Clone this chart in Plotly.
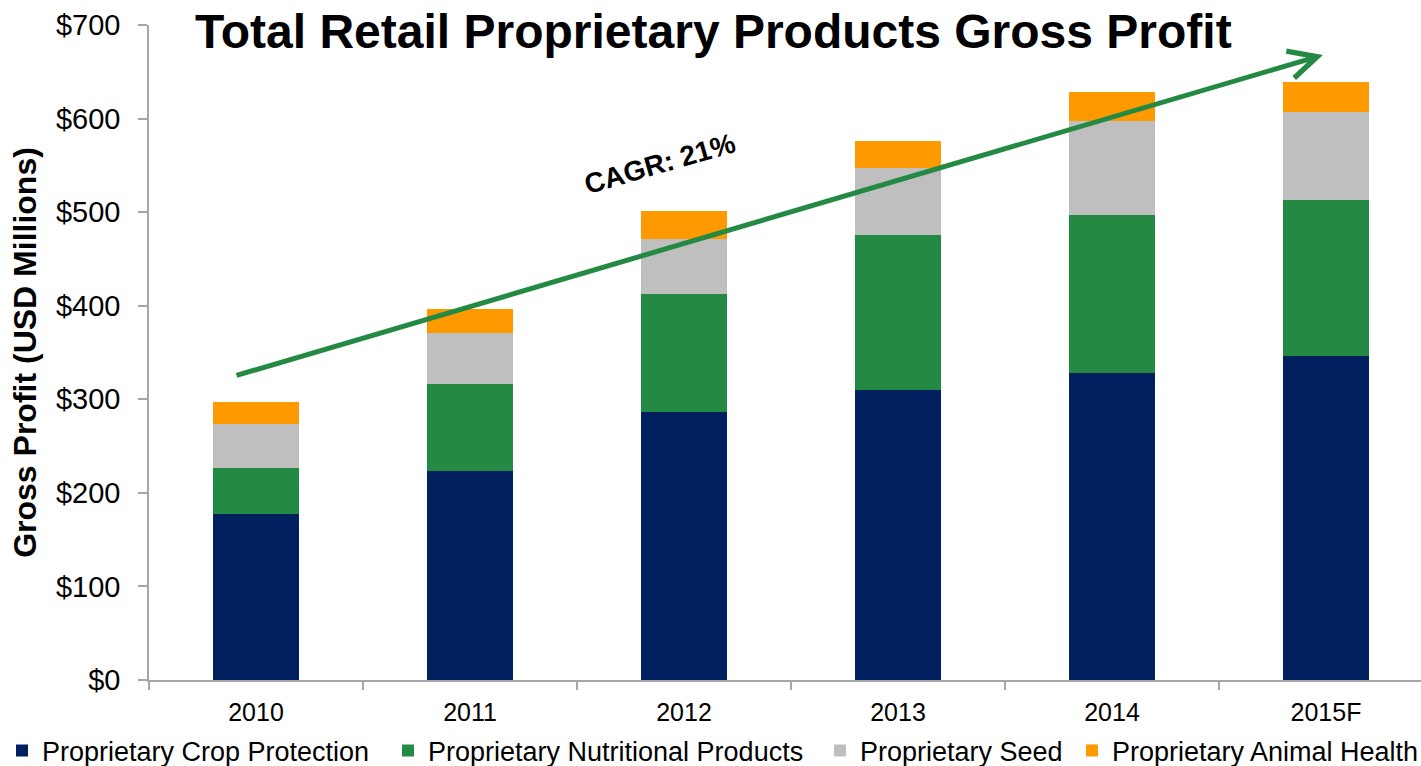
import plotly.graph_objects as go

years = ["2010", "2011", "2012", "2013", "2014", "2015F"]
crop_protection = [177, 223, 286, 310, 328, 346]
nutritional = [50, 93, 127, 166, 169, 167]
seed = [47, 55, 58, 71, 100, 94]
animal_health = [23, 25, 30, 29, 31, 32]

series_names = ["Proprietary Crop Protection", "Proprietary Nutritional Products",
                "Proprietary Seed", "Proprietary Animal Health"]
series_values = [crop_protection, nutritional, seed, animal_health]
colors = ["#002060", "#248A43", "#BFBFBF", "#FF9900"]
legend_ids = ["legend", "legend2", "legend3", "legend4"]
legend_x_px = [2, 388, 820, 1072]

y_ticks = [0, 100, 200, 300, 400, 500, 600, 700]
y_tick_text = ["$0", "$100", "$200", "$300", "$400", "$500", "$600", "$700"]

# CAGR arrow (tail -> head), in data coordinates
arrow_tail = (-0.098, 325)
arrow_head = (4.986, 668)

FONT = "Arial, Liberation Sans, sans-serif"
AXIS_COLOR = "#A6A6A6"
W, H = 1421, 766

fig = go.Figure()
for name, vals, col, lg in zip(series_names, series_values, colors, legend_ids):
    fig.add_trace(go.Bar(x=years, y=vals, name=name, marker=dict(color=col, line=dict(width=0)),
                         legend=lg, showlegend=True))

layout_legends = {}
for lg, lx in zip(legend_ids, legend_x_px):
    layout_legends[lg] = dict(orientation="h", x=lx / W, xref="container", xanchor="left",
                              y=1 - 751 / H, yref="container", yanchor="middle",
                              font=dict(family=FONT, size=27, color="#000000"),
                              bgcolor="rgba(0,0,0,0)", itemwidth=30, borderwidth=0)

fig.update_layout(
    width=W, height=H, showlegend=True,
    margin=dict(l=149, r=0, t=25, b=85.5, autoexpand=False),
    paper_bgcolor="white", plot_bgcolor="white",
    barmode="stack", bargap=0.6,
    font=dict(family=FONT, color="#000000"),
    title=dict(text="<b>Total Retail Proprietary Products Gross Profit</b>",
               font=dict(family=FONT, size=48, color="#000000"),
               x=0.502, xref="container", xanchor="center",
               y=1 - 31 / H, yref="container", yanchor="middle"),
    xaxis=dict(type="category", categoryorder="array", categoryarray=years,
               range=[-0.5, 5.444], showline=True, linecolor=AXIS_COLOR, linewidth=1.5,
               ticks="outside", tickson="boundaries", ticklen=8, tickcolor=AXIS_COLOR, tickwidth=1.5,
               tickfont=dict(family=FONT, size=25, color="#000000"), ticklabelstandoff=9,
               showgrid=False, zeroline=False),
    yaxis=dict(range=[0, 700], tickmode="array", tickvals=y_ticks, ticktext=y_tick_text,
               showline=True, linecolor=AXIS_COLOR, linewidth=1.5,
               ticks="outside", ticklen=9, tickcolor=AXIS_COLOR, tickwidth=1.5,
               tickfont=dict(family=FONT, size=29, color="#000000"), ticklabelstandoff=12,
               showgrid=False, zeroline=False,
               title=dict(text="<b>Gross Profit (USD Millions)</b>",
                          font=dict(family=FONT, size=32, color="#000000"), standoff=10)),
    **layout_legends,
)

fig.add_annotation(x=arrow_head[0], y=arrow_head[1], xref="x", yref="y",
                   ax=arrow_tail[0], ay=arrow_tail[1], axref="x", ayref="y",
                   text="", showarrow=True, arrowhead=5, arrowsize=1.1, arrowwidth=5,
                   arrowcolor="#248A43", standoff=0, startstandoff=0)

fig.add_annotation(x=1.89, y=552, xref="x", yref="y", text="<b>CAGR: 21%</b>",
                   showarrow=False, textangle=-16,
                   font=dict(family=FONT, size=28, color="#000000"))

fig.write_html("out.html")
